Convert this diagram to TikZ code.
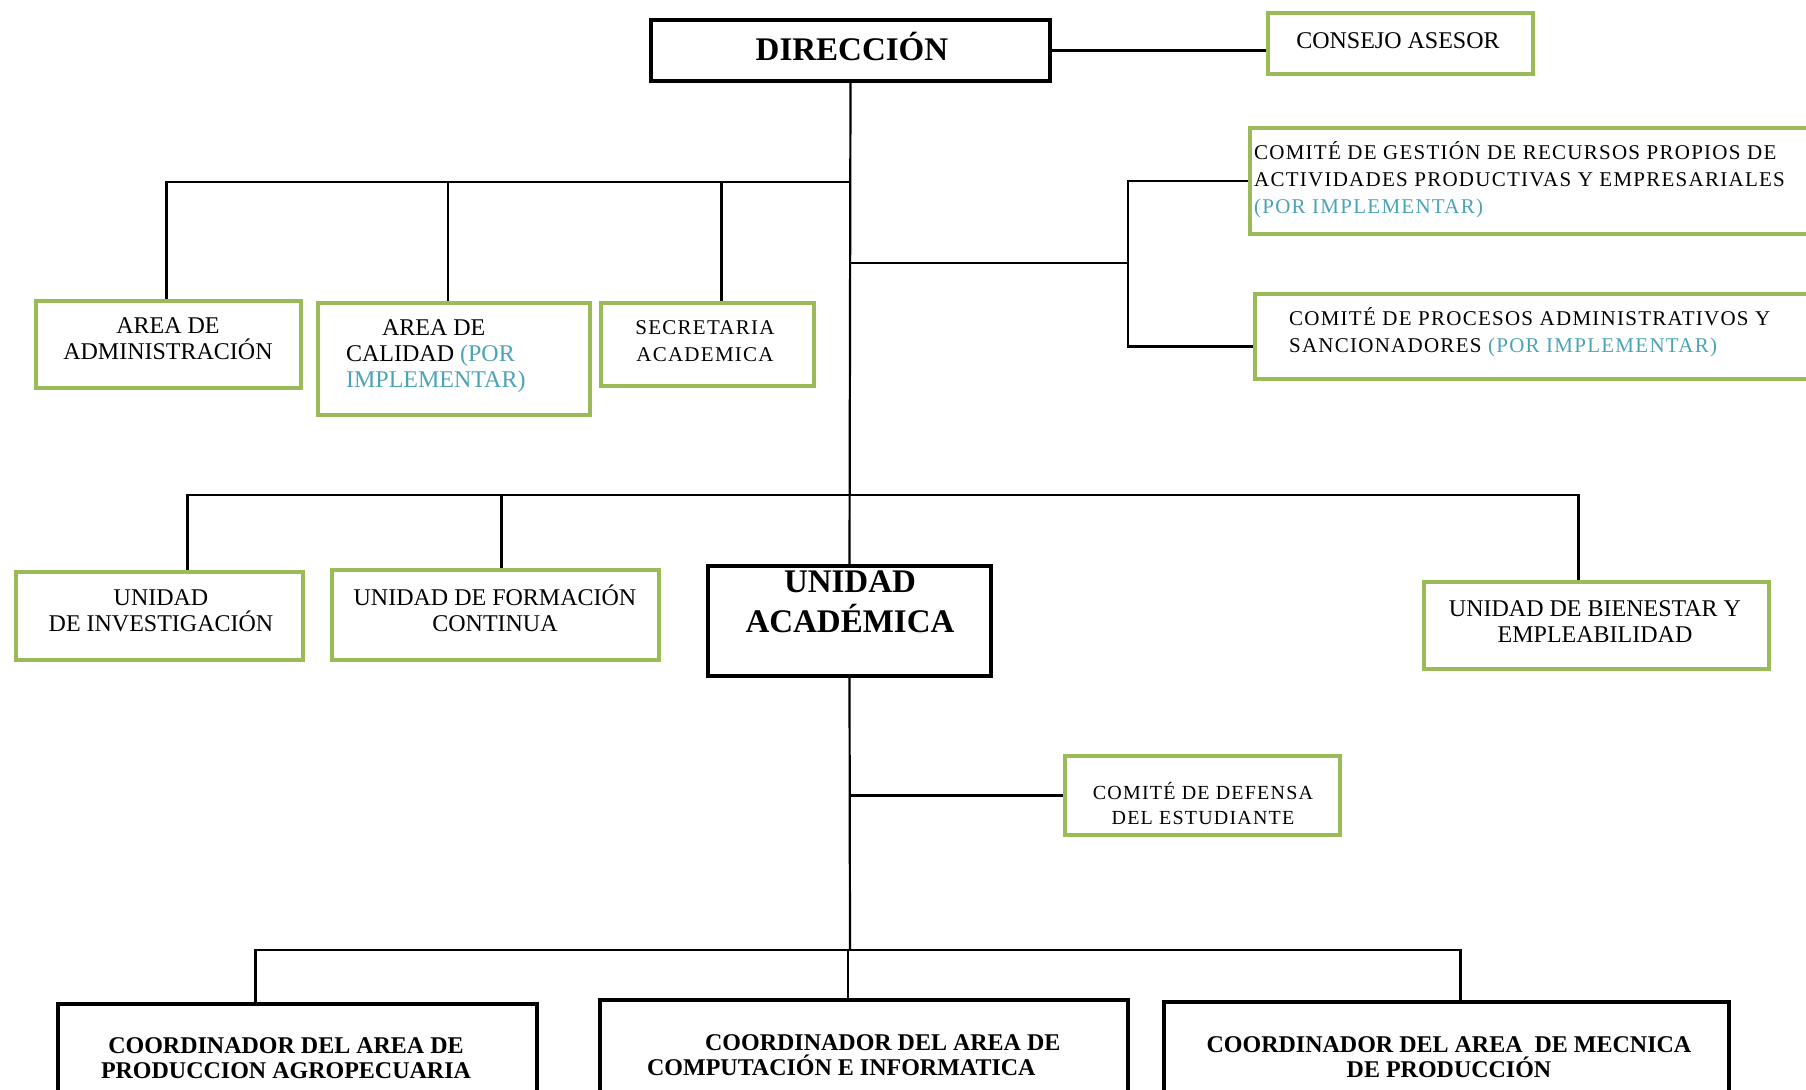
\documentclass[tikz,border=0pt]{standalone}
\usepackage{fontspec}
\setmainfont{Liberation Serif}
\newfontfamily\spacedfont[LetterSpace=6]{Liberation Serif}
\usetikzlibrary{fit}
\definecolor{cgreen}{HTML}{9BBB59}
\definecolor{cteal}{HTML}{4BA3B8}
\newcommand{\pend}[1]{\textcolor{cteal}{#1}}
\tikzset{
  every picture/.style={line width=1.1pt},
  gbox/.style={draw=cgreen, line width=1.8pt, inner sep=0pt},
  kbox/.style={draw=black, line width=1.6pt, inner sep=0pt},
  link/.style={draw=black, line width=1.1pt},
  txt/.style={align=center, inner sep=0pt, font=\fontsize{12}{13}\selectfont},
  wide/.style={align=left, inner sep=0pt, font=\spacedfont\fontsize{10.5}{13.5}\selectfont},
  head/.style={align=center, inner sep=0pt, font=\bfseries\fontsize{16.5}{20}\selectfont},
  coord/.style={align=center, inner sep=0pt, font=\bfseries\fontsize{12}{12.5}\selectfont},
}
\begin{document}
\begin{tikzpicture}[x=0.5pt, y=-0.5pt]
  \useasboundingbox (0,0) rectangle (1806,1090);
  \clip (0,0) rectangle (1806,1090);
  % top
  \node[kbox, fit={(651,20) (1050,81)}] (dir) {};
  \node[head] (dirt) at (852,47) {DIRECCIÓN};
  \node[gbox, fit={(1268,13) (1533,74)}] (cons) {};
  \node[txt] (const) at (1398,41) {CONSEJO ASESOR};
  % areas
  \node[gbox, fit={(36,301) (301,388)}] (adm) {};
  \node[txt] (admt) at (168,339) {AREA DE\\ADMINISTRACIÓN};
  \node[gbox, fit={(318,303) (590,415)}] (cal) {};
  \node[txt, align=left, anchor=west] (calt) at (345,356) {\hspace{1.5em}AREA DE\\CALIDAD \pend{(POR}\\\pend{IMPLEMENTAR)}};
  \node[gbox, fit={(601,303) (814,386)}] (sec) {};
  \node[wide, align=center] (sect) at (705,341) {SECRETARIA\\ACADEMICA};
  % comites
  \node[gbox, fit={(1250,128) (1830,234)}] (gest) {};
  \node[wide, anchor=west] (gestt) at (1253,180) {COMITÉ DE GESTIÓN DE RECURSOS PROPIOS DE\\ACTIVIDADES PRODUCTIVAS Y EMPRESARIALES\\\pend{(POR IMPLEMENTAR)}};
  \node[gbox, fit={(1255,294) (1830,379)}] (proc) {};
  \node[wide, anchor=west] (proct) at (1288,332) {COMITÉ DE PROCESOS ADMINISTRATIVOS Y\\SANCIONADORES \pend{(POR IMPLEMENTAR)}};
  % unidades
  \node[gbox, fit={(16,572) (303,660)}] (inv) {};
  \node[txt] (invt) at (161,611) {UNIDAD\\DE INVESTIGACIÓN};
  \node[gbox, fit={(332,570) (659,660)}] (form) {};
  \node[txt] (formt) at (495,608) {UNIDAD DE FORMACIÓN\\CONTINUA};
  \node[kbox, fit={(708,566) (991,676)}] (acad) {};
  \node[head] (acadt) at (850,602) {UNIDAD\\ACADÉMICA};
  \node[gbox, fit={(1424,582) (1769,669)}] (bien) {};
  \node[txt] (bient) at (1595,622) {UNIDAD DE BIENESTAR Y\\EMPLEABILIDAD};
  \node[gbox, fit={(1065,756) (1340,835)}] (def) {};
  \node[wide, align=center, font=\spacedfont\fontsize{10}{12.5}\selectfont] (deft) at (1203,804) {COMITÉ DE DEFENSA\\DEL ESTUDIANTE};
  % coordinadores
  \node[kbox, fit={(58,1004) (537,1130)}] (c1) {};
  \node[coord] (c1t) at (286,1058) {COORDINADOR DEL AREA DE\\PRODUCCION AGROPECUARIA};
  \node[kbox, fit={(600,1000) (1128,1130)}] (c2) {};
  \node[coord, align=left, anchor=west] (c2t) at (646,1055) {\hspace{29pt}COORDINADOR DEL AREA DE\\COMPUTACIÓN E INFORMATICA};
  \node[kbox, fit={(1164,1002) (1729,1130)}] (c3) {};
  \node[coord] (c3t) at (1449,1057) {COORDINADOR DEL AREA~ DE MECNICA\\DE PRODUCCIÓN};
  % connectors
  \coordinate (b1) at (850,182);
  \coordinate (b2) at (850,263);
  \coordinate (r2) at (1128,263);
  \coordinate (b3) at (850,495);
  \coordinate (b4) at (850,950);
  \draw[link] (dir.east) -- (dir.east -| cons.west);
  \draw[link] (dir.south) -- (acad.north);
  \draw[link] ([xshift=-1pt]adm.north) |- (b1);
  \draw[link] ([xshift=-3pt]cal.north) |- (b1);
  \draw[link] ([xshift=7pt]sec.north) |- (b1);
  \draw[link] (b2) -- (r2);
  \draw[link] (gest.west) -| (r2);
  \draw[link] ([yshift=-5pt]proc.west) -| (r2);
  \draw[link] ([xshift=14pt]inv.north) |- (b3);
  \draw[link] ([xshift=3pt]form.north) |- (b3);
  \draw[link] ([xshift=-9pt]bien.north) |- (b3);
  \draw[link] (acad.south |- def.west) -- (def.west);
  \draw[link] (acad.south) -- (b4);
  \draw[link] ([xshift=-21pt]c1.north) |- (b4);
  \draw[link] ([xshift=-8pt]c2.north) |- (b4);
  \draw[link] ([xshift=7pt]c3.north) |- (b4);
\end{tikzpicture}
\end{document}
